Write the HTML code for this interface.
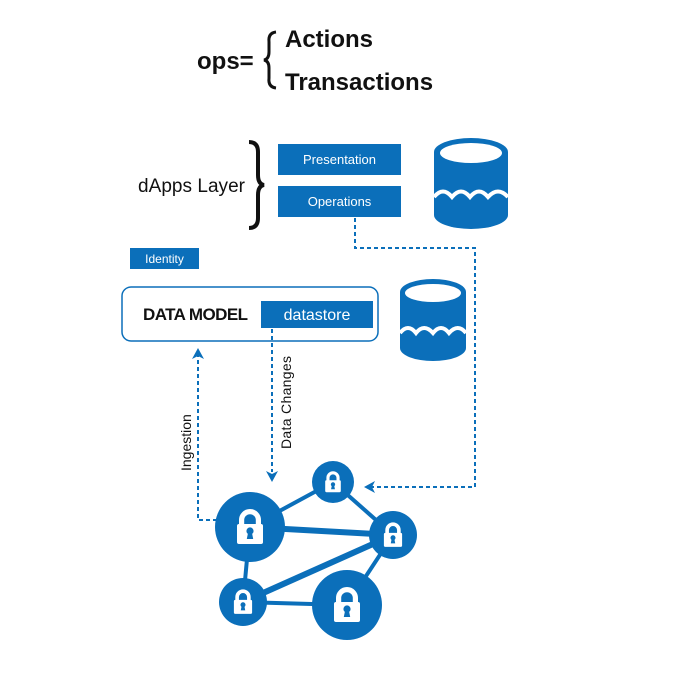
<!DOCTYPE html>
<html><head><meta charset="utf-8"><style>
html,body{margin:0;padding:0;background:#fff;}
svg{display:block;}
text{font-family:"Liberation Sans",sans-serif;}
</style></head><body>
<svg width="680" height="693" viewBox="0 0 680 693" xmlns="http://www.w3.org/2000/svg">
<defs>
<symbol id="lock" viewBox="-10 -10 20 20">
<path d="M-4.2,-1 V-3.5 A4.2,4.2 0 0 1 4.2,-3.5 V-1" fill="none" stroke="#fff" stroke-width="2.6"/>
<rect x="-6.5" y="-1.5" width="13" height="10" rx="1" fill="#fff"/>
<circle cx="0" cy="2" r="1.8" fill="#0b6fba"/>
<path d="M-0.9,2.5 L-1.6,6 H1.6 L0.9,2.5 Z" fill="#0b6fba"/>
</symbol>
</defs>
<!-- ops -->
<text x="197" y="69" font-size="24" font-weight="bold" fill="#111">ops=</text>
<path d="M276,32 Q268,33 269,42 L269,52 Q269,59 264,60 Q269,61 269,68 L269,78 Q268,87 276,88" fill="none" stroke="#111" stroke-width="3"/>
<text x="285" y="47" font-size="24" font-weight="bold" fill="#111">Actions</text>
<text x="285" y="90" font-size="24" font-weight="bold" fill="#111">Transactions</text>
<!-- dApps -->
<text x="138" y="192" font-size="19" fill="#111" textLength="107">dApps Layer</text>
<path d="M249,142 Q258,142 258,152 L258,175 Q258,184 264,185 Q258,186 258,195 L258,218 Q258,228 249,228" fill="none" stroke="#111" stroke-width="4"/>
<rect x="278" y="144" width="123" height="31" fill="#0b6fba"/>
<text x="339.5" y="164" font-size="13" fill="#fff" text-anchor="middle">Presentation</text>
<rect x="278" y="186" width="123" height="31" fill="#0b6fba"/>
<text x="339.5" y="206" font-size="13" fill="#fff" text-anchor="middle">Operations</text>
<!-- cylinders -->
<g fill="#0b6fba">
<path d="M434,152 A37,14 0 0 1 508,152 V215 A37,14 0 0 1 434,215 Z"/>
<path d="M400,292 A33,13 0 0 1 466,292 V348 A33,13 0 0 1 400,348 Z"/>
</g>
<ellipse cx="471" cy="153" rx="31" ry="10" fill="#fff"/>
<path d="M434,197 q9,-11 18,0 q9,-11 18,0 q9,-11 18,0 q10,-11 20,0" fill="none" stroke="#fff" stroke-width="4"/>
<ellipse cx="433" cy="293" rx="28" ry="9" fill="#fff"/>
<path d="M400,333 q8,-10 16,0 q8,-10 17,0 q8,-10 16,0 q9,-10 17,0" fill="none" stroke="#fff" stroke-width="4"/>
<!-- identity -->
<rect x="130" y="248" width="69" height="21" fill="#0b6fba"/>
<text x="164.5" y="263" font-size="12" fill="#fff" text-anchor="middle">Identity</text>
<!-- data model -->
<rect x="122" y="287" width="256" height="54" rx="9" fill="#fff" stroke="#0b6fba" stroke-width="1.5"/>
<text x="143" y="320" font-size="17" font-weight="bold" fill="#111" textLength="105">DATA MODEL</text>
<rect x="261" y="301" width="112" height="27" fill="#0b6fba"/>
<text x="317" y="320" font-size="16" fill="#fff" text-anchor="middle">datastore</text>
<!-- dotted connectors -->
<g fill="none" stroke="#0b6fba" stroke-width="2" stroke-dasharray="4,3">
<path d="M355,218 V248 H475 V487 H372"/>
<path d="M272,329 V472"/>
<path d="M217,520 H198 V356"/>
</g>
<g fill="#0b6fba">
<path d="M364,487 L375,481 L372,487 L375,493 Z"/>
<path d="M272,482 L266,471 L272,474 L278,471 Z"/>
<path d="M198,348 L192,359 L198,356 L204,359 Z"/>
</g>
<text transform="translate(191,471) rotate(-90)" font-size="14" fill="#111">Ingestion</text>
<text transform="translate(291,449) rotate(-90)" font-size="14" fill="#111" textLength="93">Data Changes</text>
<!-- network -->
<g stroke="#0b6fba" fill="none">
<line x1="250" y1="527" x2="333" y2="482" stroke-width="4"/>
<line x1="333" y1="482" x2="393" y2="535" stroke-width="4"/>
<line x1="250" y1="527" x2="393" y2="535" stroke-width="6"/>
<line x1="243" y1="602" x2="393" y2="535" stroke-width="6"/>
<line x1="250" y1="527" x2="243" y2="602" stroke-width="4"/>
<line x1="243" y1="602" x2="347" y2="605" stroke-width="4"/>
<line x1="393" y1="535" x2="347" y2="605" stroke-width="4"/>
</g>
<g fill="#0b6fba">
<circle cx="250" cy="527" r="35"/>
<circle cx="333" cy="482" r="21"/>
<circle cx="393" cy="535" r="24"/>
<circle cx="243" cy="602" r="24"/>
<circle cx="347" cy="605" r="35"/>
</g>
<use href="#lock" x="230" y="507" width="40" height="40"/>
<use href="#lock" x="321" y="470" width="24" height="24"/>
<use href="#lock" x="379" y="521" width="28" height="28"/>
<use href="#lock" x="229" y="588" width="28" height="28"/>
<use href="#lock" x="327" y="585" width="40" height="40"/>
</svg>
</body></html>
